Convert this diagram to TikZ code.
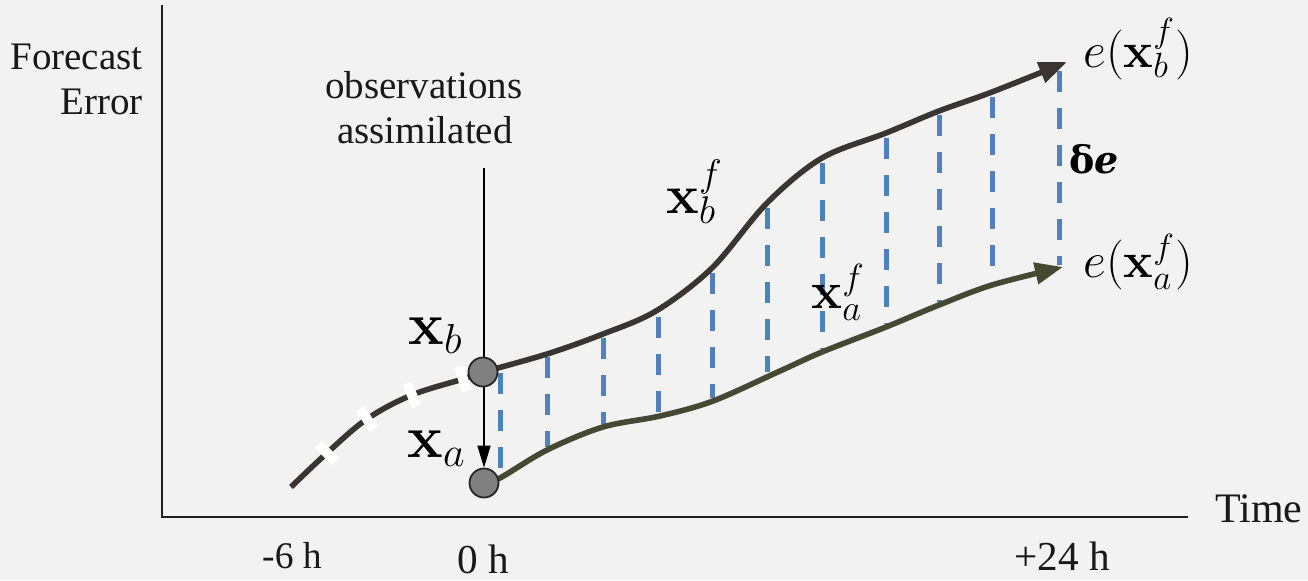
\documentclass[tikz,border=0pt]{standalone}
\usepackage{fix-cm}
\usepackage[no-math]{fontspec}
\setmainfont{Liberation Serif}
\newfontfamily\djserif{DejaVu Serif}
\usetikzlibrary{arrows.meta}
\pgfdeclarelayer{back}
\pgfdeclarelayer{lines}
\pgfsetlayers{back,lines,main}
\definecolor{bgc}{RGB}{242,242,242}
\definecolor{upc}{RGB}{58,53,48}
\definecolor{loc}{RGB}{70,73,50}
\definecolor{bluec}{RGB}{79,129,189}
\definecolor{dotc}{RGB}{128,128,128}
\begin{document}
\begin{tikzpicture}[x=0.5pt,y=-0.5pt,
  axis/.style={line width=1.2pt, black!88},
  curveb/.style={line width=2.8pt, upc},
  curvea/.style={line width=2.8pt, loc},
  diff/.style={line width=2.5pt, bluec, dash pattern=on 10.5pt off 8pt},
  state/.style={circle, fill=dotc, draw=black!85, line width=0.9pt, minimum size=14.5pt, inner sep=0pt},
  whitemark/.style={rectangle, fill=white, inner sep=0pt, minimum width=5pt, minimum height=12.5pt},
  lab/.style={inner sep=0pt},
  txt/.style={inner sep=0pt, text=black!90},
]
\begin{pgfonlayer}{back}
\fill[bgc] (0,0) rectangle (1308,580);
\end{pgfonlayer}
\useasboundingbox (0,0) rectangle (1308,580);

% state circles
\node[state] (xb) at (483,372) {};
\node[state] (xa) at (484,483) {};

\begin{pgfonlayer}{lines}
% axes
\coordinate (ytop) at (162,5);
\coordinate (orig) at (162,517);
\coordinate (xend) at (1188,517);
\draw[axis] (ytop) -- (orig) -- (xend);

% blue difference lines
\foreach \x/\t/\b [count=\i] in {500/373/475, 547/357/447, 603/338/424, 658/317/413, 712/273/398, 767/208/372, 822/163/349, 886/138/324, 939/115/302, 992/97/282, 1059/71/265}{
  \coordinate (dt\i) at (\x,\t);
  \coordinate (db\i) at (\x,\b);
  \draw[diff] (dt\i) -- (db\i);
}

% background trajectory before 0 h
\coordinate (l0) at (291,487);
\coordinate (l1) at (327,453);
\coordinate (l2) at (367,419);
\coordinate (l3) at (412,395);
\coordinate (l4) at (463,379);
\draw[curveb] plot[smooth, tension=0.6] coordinates {(l0) (l1) (l2) (l3) (l4) (xb.center)};
\node[whitemark, rotate=44] (m1) at (l1) {};
\node[whitemark, rotate=33] (m2) at (l2) {};
\node[whitemark, rotate=22] (m3) at (l3) {};
\node[whitemark, rotate=17] (m4) at (l4) {};

% forecast from background
\coordinate (u1) at (547,354);
\coordinate (u2) at (603,334);
\coordinate (u3) at (656,311);
\coordinate (u4) at (712,268);
\coordinate (u5) at (767,203);
\coordinate (u6) at (822,158);
\coordinate (u7) at (886,133);
\coordinate (u8) at (939,111);
\coordinate (u9) at (992,92);
\coordinate (ue) at (1067,62);
\draw[curveb, -{Triangle[length=14pt,width=10.5pt]}] plot[smooth, tension=0.55] coordinates {(xb.center) (u1) (u2) (u3) (u4) (u5) (u6) (u7) (u8) (u9) (ue)};

% forecast from analysis
\coordinate (a1) at (500,478);
\coordinate (a2) at (547,450);
\coordinate (a3) at (603,427);
\coordinate (a4) at (660,416);
\coordinate (a5) at (713,401);
\coordinate (a6) at (780,371);
\coordinate (a7) at (822,352);
\coordinate (a8) at (886,327);
\coordinate (a9) at (939,305);
\coordinate (a10) at (992,285);
\coordinate (ae) at (1063,267);
\draw[curvea, -{Triangle[length=14pt,width=10.5pt]}] plot[smooth, tension=0.55] coordinates {(xa.center) (a1) (a2) (a3) (a4) (a5) (a6) (a7) (a8) (a9) (a10) (ae)};

% observation arrow
\coordinate (obs) at (484,168);
\draw[line width=0.8pt, black, -{Triangle[length=11pt,width=6.5pt]}] (obs) -- (xa.north);
\end{pgfonlayer}

% axis texts
\node[txt, anchor=base east, font=\fontsize{19.5}{22}\selectfont] (fc) at (143,69) {Forecast};
\node[txt, anchor=base east, font=\fontsize{19.5}{22}\selectfont] (er) at (143,114) {Error};
\node[txt, anchor=base, font=\fontsize{19.5}{22}\selectfont] (ob1) at (424,98) {observations};
\node[txt, anchor=base, font=\fontsize{19.5}{22}\selectfont] (ob2) at (425,143) {assimilated};
\node[txt, anchor=base west, font=\fontsize{21}{24}\selectfont] (tm) at (1215,522) {Time};
\node[txt, anchor=base, font=\fontsize{18.8}{22}\selectfont] (tm6) at (292,568) {-6 h};
\node[txt, anchor=base, font=\fontsize{20.6}{24}\selectfont] (tm0) at (483,573) {0 h};
\node[txt, anchor=base, font=\fontsize{20.6}{24}\selectfont] (tm24) at (1062,570) {+24 h};

% math labels
\node[lab, anchor=base west, font=\fontsize{30}{36}\selectfont] (lxb) at (408,344) {$\mathbf{x}_b$};
\node[lab, anchor=base west, font=\fontsize{30}{36}\selectfont] (lxa) at (407,457) {$\mathbf{x}_a$};
\node[lab, anchor=base west, font=\fontsize{27.5}{33}\selectfont] (lxbf) at (666,213) {$\mathbf{x}_b^f$};
\node[lab, anchor=base west, font=\fontsize{26}{31}\selectfont] (lxaf) at (811,308) {$\mathbf{x}_a^f$};
\node[lab, anchor=base west, font=\fontsize{25}{30}\selectfont] (leb) at (1083,67) {$e(\mathbf{x}_b^f)$};
\node[lab, anchor=base west, font=\fontsize{25}{30}\selectfont] (lea) at (1083,277) {$e(\mathbf{x}_a^f)$};
\node[lab, anchor=base west, font=\djserif\bfseries\fontsize{19}{22}\selectfont] (lde) at (1069,173) {δ\textit{e}};
\end{tikzpicture}
\end{document}
